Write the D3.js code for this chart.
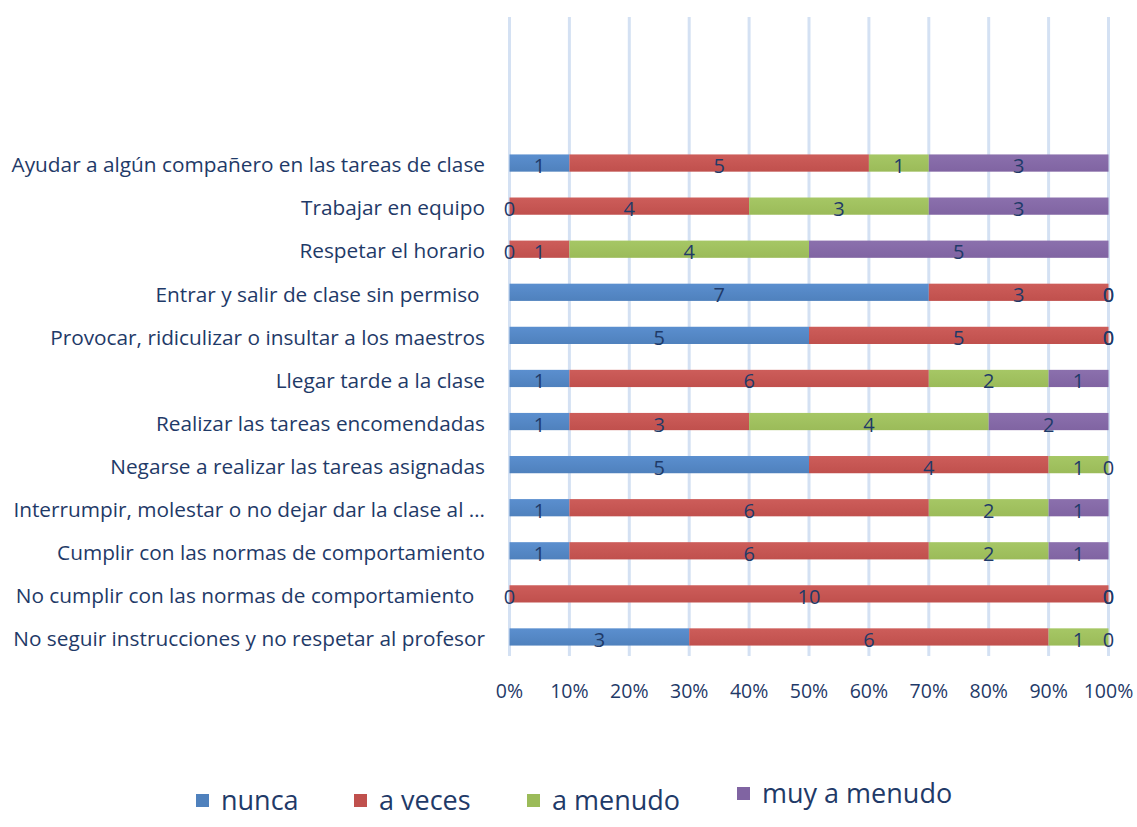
<!DOCTYPE html>
<html>
<head>
<meta charset="utf-8">
<script src="https://cdn.jsdelivr.net/npm/d3@7"></script>
<style>
  body { margin: 0; background: #fff; }
  text { font-family: "Open Sans", sans-serif; fill: #1f3a68; white-space: pre; }
</style>
</head>
<body>
<div id="chart"></div>
<script>
// Categories, top to bottom as drawn
const categories = [
    "Ayudar a algún compañero en las tareas de clase",
    "Trabajar en equipo",
    "Respetar el horario",
    "Entrar y salir de clase sin permiso ",
    "Provocar, ridiculizar o insultar a los maestros",
    "Llegar tarde a la clase",
    "Realizar las tareas encomendadas",
    "Negarse a realizar las tareas asignadas",
    "Interrumpir, molestar o no dejar dar la clase al …",
    "Cumplir con las normas de comportamiento",
    "No cumplir con las normas de comportamiento  ",
    "No seguir instrucciones y no respetar al profesor"
];
const seriesNames = ["nunca", "a veces", "a menudo", "muy a menudo"];
const nunca      = [1, 0, 0, 7, 5, 1, 1, 5, 1, 1, 0, 3];
const aVeces     = [5, 4, 1, 3, 5, 6, 3, 4, 6, 6, 10, 6];
const aMenudo    = [1, 3, 4, 0, 0, 2, 4, 1, 2, 2, 0, 1];
const muyAMenudo = [3, 3, 5, 0, 0, 1, 2, 0, 1, 1, 0, 0];
const tickLabels = ["0%", "10%", "20%", "30%", "40%", "50%", "60%", "70%", "80%", "90%", "100%"];
const colors = ["#4f81bd", "#c0504d", "#9bbb59", "#8064a2"];
const lightColors = ["#5b8fcf", "#cd5d5a", "#a6c765", "#8b70ad"];

const width = 1137, height = 827;
const svg = d3.select("#chart")
    .append("svg")
    .attr("width", width)
    .attr("height", height);

// Gradients for the bars
const defs = svg.append("defs");
colors.forEach((c, i) => {
    const g = defs.append("linearGradient")
        .attr("id", "grad" + i)
        .attr("x1", 0).attr("y1", 0).attr("x2", 0).attr("y2", 1);
    g.append("stop").attr("offset", "0%").attr("stop-color", lightColors[i]);
    g.append("stop").attr("offset", "100%").attr("stop-color", c);
});

const x = d3.scaleLinear().domain([0, 1]).range([509.5, 1108.5]);
const y = d3.scaleBand()
    .domain(categories)
    .range([141.5, 658.5])
    .paddingInner(0.6)
    .paddingOuter(0.3);

// Rows of proportions
const rows = categories.map((cat, i) => {
    const vals = [nunca[i], aVeces[i], aMenudo[i], muyAMenudo[i]];
    const total = d3.sum(vals);
    let acc = 0;
    return vals.map((v, s) => {
        const x0 = acc / total;
        acc += v;
        return { cat: cat, s: s, v: v, x0: x0, x1: acc / total };
    });
});

// Gridlines
svg.append("g")
    .selectAll("line")
    .data(d3.range(0, 1.0001, 0.1))
    .enter()
    .append("line")
    .attr("x1", d => x(d))
    .attr("x2", d => x(d))
    .attr("y1", 17)
    .attr("y2", 656)
    .attr("stroke", "#d4e1f3")
    .attr("stroke-width", 3);

// Bars
const segs = rows.flat();
svg.append("g")
    .selectAll("rect")
    .data(segs.filter(d => d.v > 0))
    .enter()
    .append("rect")
    .attr("x", d => x(d.x0))
    .attr("y", d => y(d.cat))
    .attr("width", d => x(d.x1) - x(d.x0))
    .attr("height", y.bandwidth())
    .attr("fill", d => "url(#grad" + d.s + ")");

// Data labels
svg.append("g")
    .selectAll("text")
    .data(segs)
    .enter()
    .append("text")
    .attr("x", d => x((d.x0 + d.x1) / 2))
    .attr("y", d => y(d.cat) + y.bandwidth() / 2 + 3)
    .attr("dy", "0.35em")
    .attr("text-anchor", "middle")
    .attr("font-size", 20)
    .text(d => d.v);

// Category labels
svg.append("g")
    .selectAll("text")
    .data(categories)
    .enter()
    .append("text")
    .attr("x", 485)
    .attr("y", d => y(d) + y.bandwidth() / 2 + 2)
    .attr("dy", "0.35em")
    .attr("text-anchor", "end")
    .attr("font-size", 20.8)
    .text(d => d);

// Tick labels
svg.append("g")
    .selectAll("text")
    .data(tickLabels)
    .enter()
    .append("text")
    .attr("x", (d, i) => x(i / 10))
    .attr("y", 691)
    .attr("dy", "0.35em")
    .attr("text-anchor", "middle")
    .attr("font-size", 19.5)
    .text(d => d);

// Legend
const legendX = [196, 354, 527, 737];
const legendY = [801, 801, 801, 794];
const legend = svg.append("g")
    .selectAll("g")
    .data(seriesNames)
    .enter()
    .append("g")
    .attr("transform", (d, i) => `translate(${legendX[i]},${legendY[i]})`);
legend.append("rect")
    .attr("x", 0)
    .attr("y", -7)
    .attr("width", 13)
    .attr("height", 13)
    .attr("fill", (d, i) => colors[i]);
legend.append("text")
    .attr("x", 25)
    .attr("y", 0)
    .attr("dy", "0.35em")
    .attr("font-size", 27)
    .text(d => d);
</script>
</body>
</html>
